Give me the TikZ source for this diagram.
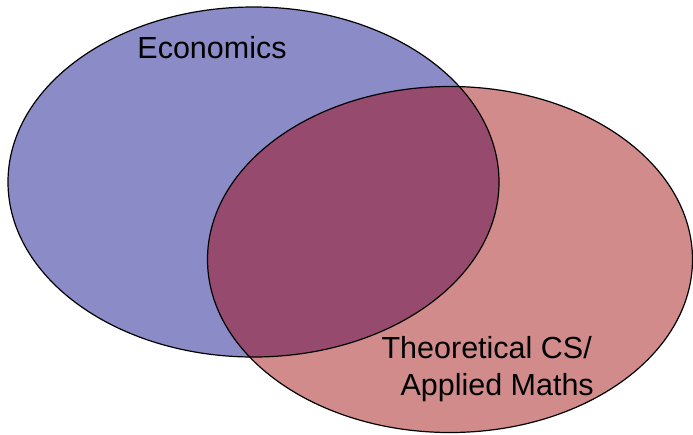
\documentclass[tikz,border=0pt]{standalone}
\usepackage{fontspec}
\setmainfont{Liberation Sans}
\definecolor{econ}{RGB}{139,139,199}
\definecolor{tcs}{RGB}{209,139,139}
\definecolor{both}{RGB}{150,74,110}
\begin{document}
\begin{tikzpicture}[x=1pt,y=-1pt,
  setline/.style={draw=black,line width=1.2pt},
  lab/.style={font=\fontsize{30.5}{37}\selectfont,inner sep=0pt}]
\useasboundingbox (0,0) rectangle (693,434);
\fill[econ] (253.5,182) ellipse [x radius=245.5,y radius=175];
\fill[tcs] (450,259.5) ellipse [x radius=242.5,y radius=173];
\begin{scope}
\clip (253.5,182) ellipse [x radius=245.5,y radius=175];
\fill[both] (450,259.5) ellipse [x radius=242.5,y radius=173];
\end{scope}
\draw[setline] (253.5,182) ellipse [x radius=245.5,y radius=175];
\draw[setline] (450,259.5) ellipse [x radius=242.5,y radius=173];
\node[lab,anchor=base] (econlab) at (212,58) {Economics};
\node[lab,anchor=base east] (tcslab) at (592,358) {Theoretical CS/};
\node[lab,anchor=base east] (mathlab) at (594,395) {Applied Maths};
\end{tikzpicture}
\end{document}
